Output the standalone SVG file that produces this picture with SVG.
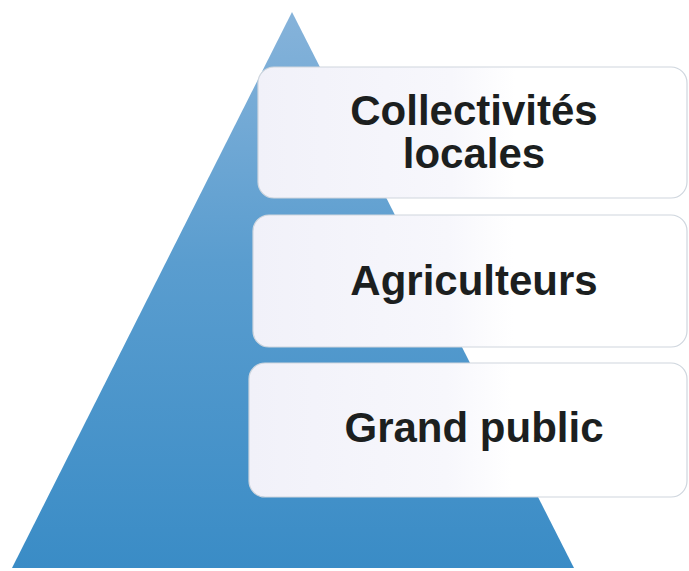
<svg xmlns="http://www.w3.org/2000/svg" width="689" height="571" viewBox="0 0 689 571">
  <defs>
    <linearGradient id="tri" x1="0" y1="0" x2="0" y2="1">
      <stop offset="0" stop-color="#86b3da"/>
      <stop offset="0.45" stop-color="#5a9dcf"/>
      <stop offset="1" stop-color="#3a8cc6"/>
    </linearGradient>
    <linearGradient id="box" x1="0" y1="0" x2="1" y2="0">
      <stop offset="0" stop-color="#f1f1f9"/>
      <stop offset="0.45" stop-color="#f7f7fc"/>
      <stop offset="0.6" stop-color="#ffffff"/>
      <stop offset="1" stop-color="#ffffff"/>
    </linearGradient>
  </defs>
  <style>
    .box { fill: url(#box); stroke: #cfd6de; stroke-width: 1.2; }
    .lbl { font-family: "Liberation Sans", Arial, sans-serif; font-weight: bold; font-size: 42px; fill: #1c1f1f; text-anchor: middle; }
  </style>
  <rect width="689" height="571" fill="#ffffff"/>
  <g id="pyramid">
    <polygon points="292,12 574,568 12,568" fill="url(#tri)"/>
  </g>
  <g id="connectors"></g>
  <g id="node-collectivites">
    <rect class="box" x="258" y="67" width="429" height="131" rx="16"/>
    <text class="lbl" x="474" y="125">Collectivités</text>
    <text class="lbl" x="474" y="168">locales</text>
  </g>
  <g id="node-agriculteurs">
    <rect class="box" x="253" y="215" width="434" height="132" rx="16"/>
    <text class="lbl" x="474" y="295">Agriculteurs</text>
  </g>
  <g id="node-grand-public">
    <rect class="box" x="249" y="363" width="438" height="134" rx="16"/>
    <text class="lbl" x="474" y="442">Grand public</text>
  </g>
</svg>
